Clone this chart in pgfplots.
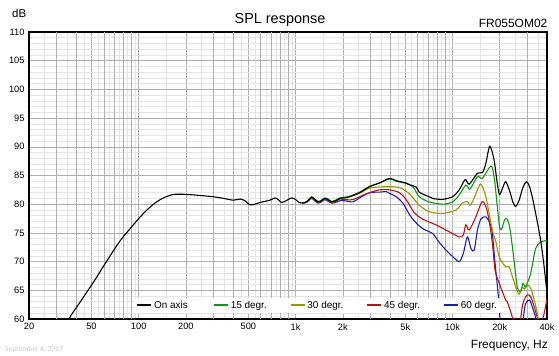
\documentclass[border=0pt]{standalone}
\usepackage{pgfplots}
\pgfplotsset{compat=1.18}
\usepackage{fontspec}
\setmainfont{Liberation Sans}
\newfontfamily\datefont{Carlito}
\definecolor{cgreen}{RGB}{20,150,20}
\definecolor{colive}{RGB}{150,150,0}
\definecolor{cred}{RGB}{180,20,20}
\definecolor{cblue}{RGB}{30,30,180}
\definecolor{gmaj}{RGB}{175,175,175}
\definecolor{gmin}{RGB}{228,228,228}
\begin{document}
\begin{tikzpicture}
\useasboundingbox (0,0) rectangle (559bp,356bp);
\begin{axis}[
  at={(29bp,37bp)}, anchor=south west,
  scale only axis, width=518bp, height=287bp,
  xmode=log, log basis x=10,
  xmin=20, xmax=40000, ymin=60, ymax=110,
  axis line style={line width=1.3bp},
  major tick length=0pt, minor tick length=0pt,
  xtick={20,50,100,200,500,1000,2000,5000,10000,20000,40000},
  xticklabels={20,50,100,200,500,1k,2k,5k,10k,20k,40k},
  extra x ticks={30,40,60,70,80,90,300,400,600,700,800,900,3000,4000,6000,7000,8000,9000,30000},
  extra x tick labels={},
  extra x tick style={grid=major, major grid style={gmaj, line width=0.6bp}, major tick length=0pt},
  minor xtick={25,35,45,55,65,75,85,95,150,250,350,450,550,650,750,850,950,1500,2500,3500,4500,5500,6500,7500,8500,9500,15000,25000,35000},
  ytick={60,65,...,110},
  minor ytick={61,62,63,64,66,67,68,69,71,72,73,74,76,77,78,79,81,82,83,84,86,87,88,89,91,92,93,94,96,97,98,99,101,102,103,104,106,107,108,109},
  grid=both,
  major grid style={gmaj, line width=0.6bp},
  minor grid style={gmin, line width=0.6bp},
  /pgf/number format/assume math mode=true,
  tick label style={font=\fontsize{9.3}{11}\selectfont},
  xticklabel style={yshift=-1bp},
  yticklabel style={xshift=-1bp},
  legend image code/.code={\draw[line width=1.7bp, #1] (0bp,0.5bp) -- (14bp,0.5bp);},
  legend columns=5,
  legend style={at={(0.205,0.048)}, anchor=west, draw=none, fill=white,
    font=\fontsize{10}{12}\selectfont, inner sep=1bp,
    /tikz/every even column/.append style={column sep=0bp}},
  legend cell align=left,
  every axis plot/.append style={line width=1.1bp, smooth, tension=0.5},
]
\addlegendimage{draw=black}\addlegendentry{\makebox[57bp][l]{On axis}}
\addlegendimage{draw=cgreen}\addlegendentry{\makebox[57bp][l]{15 degr.}}
\addlegendimage{draw=colive}\addlegendentry{\makebox[57bp][l]{30 degr.}}
\addlegendimage{draw=cred}\addlegendentry{\makebox[57bp][l]{45 degr.}}
\addlegendimage{draw=cblue}\addlegendentry{60 degr.}

% 60 degr
\addplot[cblue, forget plot] coordinates {
(1100,80.2) (1173,80.3) (1262,81.0) (1320,80.6) (1390,80.2) (1460,80.4) (1532,80.8) (1610,80.5) (1691,80.2) (1800,80.3) (1909,80.6) (2050,80.6) (2318,80.4) (2557,81.1) (2959,82.0) (3426,82.1) (3780,82.2) (3965,81.9) (4375,81.3) (4820,80.2) (5310,78.2) (5574,77.4) (6144,76.2) (6700,75.5) (7470,74.9) (8200,73.4) (9080,72.0) (10004,70.9) (11030,70.0) (11700,71.4) (12450,74.3) (13090,72.3) (13740,72.0) (14420,75.5) (15150,77.4) (16000,77.8) (16690,77.5) (17800,75.5) (18670,69.7) (19600,63.9) (20300,58) };
\addplot[cblue, forget plot] coordinates {
(27500,57) (28500,61.0) (29240,62.7) (30950,63.3) (32200,62.1) (33860,60.3) (35000,58) };
% 45 degr
\addplot[cred, forget plot] coordinates {
(1100,80.2) (1173,80.4) (1262,81.1) (1320,80.8) (1390,80.3) (1460,80.5) (1532,80.9) (1610,80.7) (1691,80.3) (1800,80.5) (1909,80.9) (2050,80.8) (2318,80.8) (2600,81.4) (2959,82.0) (3426,82.5) (3965,82.5) (4588,82.0) (5063,80.8) (5716,78.5) (6453,77.4) (7850,76.4) (9530,75.2) (11030,74.3) (11700,74.6) (12170,76.4) (12775,75.5) (14080,77.8) (15380,80.4) (16300,79.6) (17100,77.2) (17950,73.2) (18670,68.5) (19800,66.3) (21830,63.3) (22340,63.0) (24050,60.3) (25000,58) };
\addplot[cred, forget plot] coordinates {
(26500,57) (27600,61.5) (28530,63.3) (29950,64.2) (31460,63.9) (33170,62.1) (34660,60.3) (36000,59.0) (38000,60.5) (40000,63.5) };
% 30 degr
\addplot[colive, forget plot] coordinates {
(1100,80.2) (1173,80.4) (1262,81.2) (1320,80.9) (1390,80.4) (1460,80.6) (1532,81.0) (1610,80.8) (1691,80.4) (1800,80.6) (1909,81.0) (2050,81.1) (2209,81.3) (2557,81.9) (2959,82.8) (3426,83.0) (3780,83.05) (4588,82.9) (5310,81.8) (6144,79.8) (7110,78.7) (8644,78.4) (10510,79.0) (11580,80.2) (12450,80.45) (13090,79.9) (14420,82.5) (15150,83.5) (16300,81.3) (17950,75.5) (18870,73.5) (19800,70.9) (20800,69.8) (21830,69.1) (22890,69.1) (24050,67.4) (25270,65.6) (26520,64.3) (27830,65.5) (28800,65.2) (29950,65.9) (31460,65.4) (33170,63.3) (34660,61.0) (36000,58) };
% 15 degr
\addplot[cgreen, forget plot] coordinates {
(1100,80.2) (1173,80.4) (1262,81.3) (1320,80.9) (1390,80.5) (1460,80.7) (1532,81.1) (1610,80.9) (1691,80.5) (1800,80.7) (1909,81.1) (2050,81.2) (2209,81.4) (2557,82.1) (2959,83.1) (3426,83.7) (3965,84.4) (4375,84.0) (5063,83.6) (5600,83.0) (6144,81.3) (7110,80.4) (8644,80.0) (10004,80.4) (11030,81.6) (12170,83.35) (12900,82.6) (14420,84.8) (15510,84.5) (17540,86.65) (18400,84.8) (19300,79.6) (19900,76.2) (20500,75.6) (21500,77.3) (22300,77.4) (23300,75.5) (24700,70.0) (25900,65.5) (27200,64.8) (28100,66.2) (29000,65.6) (30000,66.3) (31400,67.8) (32300,69.5) (33900,72.3) (36400,73.4) (40000,73.7) };
% On axis
\addplot[black, forget plot] coordinates {
(30,55.5) (35.9,60) (42,62.8) (52.6,66.8) (60,69.3) (69.4,72.0) (78,74.0) (88.6,75.8) (100,77.5) (113,79.0) (127,80.2) (144,81.1) (167,81.7) (203,81.7) (250,81.5) (299,81.3) (350,81.0) (401,80.7) (443,80.9) (475,80.6) (512,79.9) (550,80.0) (593,80.3) (687,80.7) (738,81.1) (775,80.8) (814,80.3) (870,80.6) (942,81.1) (1000,80.8) (1052,80.3) (1100,80.2) (1173,80.4) (1262,81.2) (1320,80.9) (1390,80.4) (1460,80.6) (1532,81.0) (1610,80.8) (1691,80.4) (1800,80.6) (1909,81.0) (2050,81.1) (2209,81.3) (2557,82.0) (2959,83.05) (3426,83.7) (3965,84.5) (4375,84.1) (5063,83.7) (5310,83.4) (5859,83.0) (6144,82.1) (6937,81.4) (7500,81.0) (8644,80.85) (10004,81.3) (11030,82.5) (12049,84.3) (12775,83.5) (14420,85.4) (15510,85.5) (16300,87.1) (17280,90.1) (18400,87.7) (19200,84.0) (19900,81.7) (20700,82.6) (21800,83.9) (23000,82.5) (24300,80.3) (25300,79.6) (26500,80.6) (28000,82.8) (29500,83.9) (30800,83.2) (32200,81.3) (34200,77.8) (36400,73.8) (38200,69.5) (40000,64.5) };
\end{axis}
\node[anchor=base, font=\fontsize{14.5}{17}\selectfont] at (280bp,332.7bp) {SPL response};
\node[anchor=base west, inner sep=0pt, font=\fontsize{11.5}{13}\selectfont] at (12bp,338.3bp) {dB};
\node[anchor=base east, inner sep=0pt, font=\fontsize{12}{14}\selectfont] at (547.5bp,328.3bp) {FR055OM02};
\node[anchor=base east, inner sep=0pt, font=\fontsize{12}{14}\selectfont] at (548bp,7.7bp) {Frequency, Hz};
\node[anchor=base west, inner sep=0pt, text=black!22, font=\datefont\fontsize{7.5}{9}\selectfont] at (5bp,5bp) {September 6, 2017};
\end{tikzpicture}
\end{document}
